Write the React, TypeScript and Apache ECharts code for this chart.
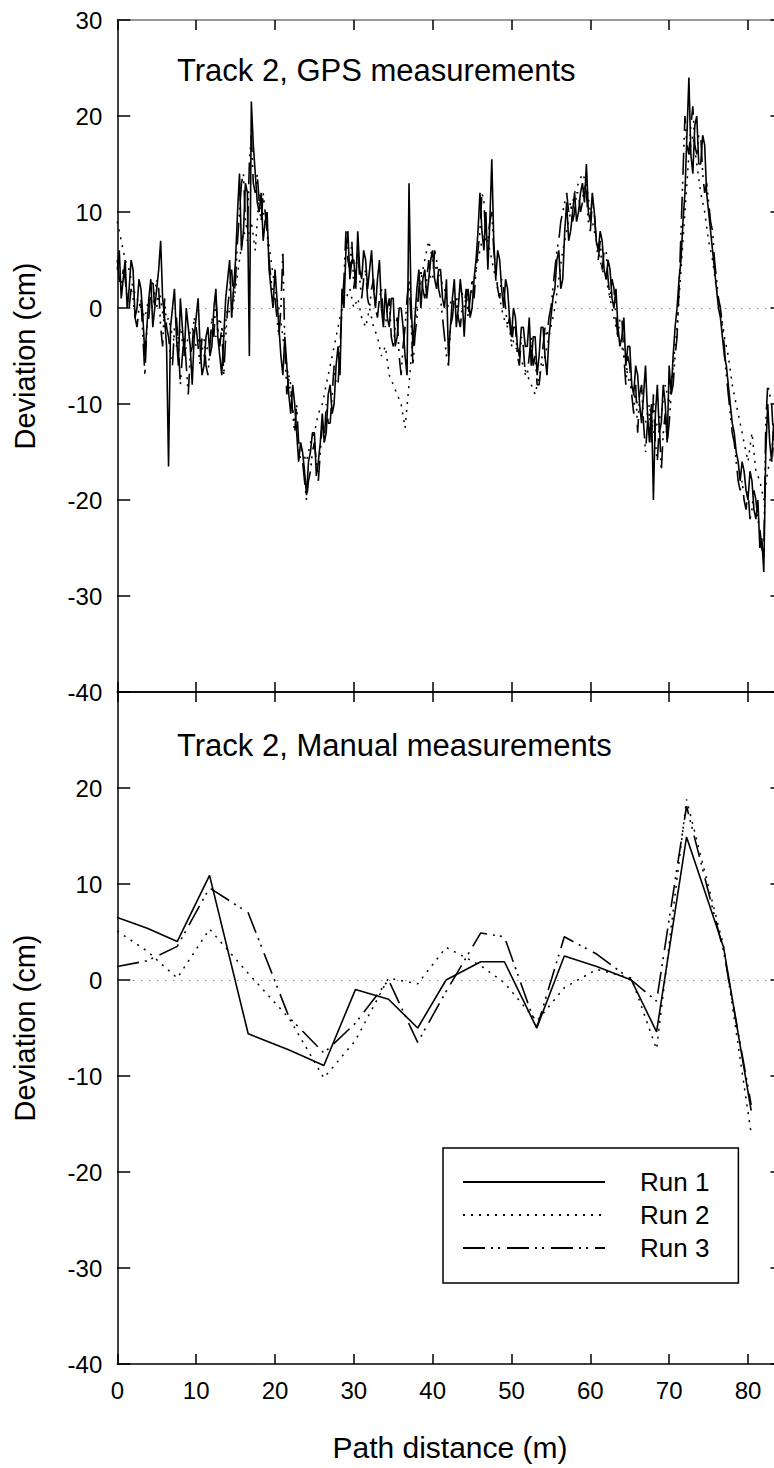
import React, { useEffect, useRef } from "react";
import * as echarts from "echarts";

// ---------- GPS measurements (top panel) ----------
// Runs 1 and 3: one reading every 0.25 m from 0 m; Run 2: one reading every 0.5 m from 0 m.
const gpsStart = 0;
const gpsFineStep = 0.25;
const gpsCoarseStep = 0.5;

const gpsRun1 = [
  4, 6, 1, 3, 5, 0, 2, 5, 4, -1, 0, 3, 2, -1, -5, -2, 1, 3, -2, 0,
  2, 4, 7, 1, -1, -4, -16.5, -2, 0, 2, -3, -6, 1, -2, -5, 0, -2, -4, -8, -3,
  -1, 1, -4, -7, -6, -3, -2, -5, -4, 0, 2, -3, -5, -7, -3, 1, 3, 5, -1, 2,
  5, 10, 14, 6, 8, 13, 12, -5, 21.5, 17, 14, 11, 10, 12, 7, 9, 10, 4, 2, 0,
  4, 1, -2, -5, -7, -3, -6, -9, -11, -8, -10, -13, -16, -14, -15, -17, -19.5, -16, -15, -13,
  -13, -17.5, -16, -14, -11, -14, -13, -9, -8, -11, -10, -6, -4, -7, 2, 0, 6, 8, 3, 5,
  5, 2, 8, 4, 3, 6, 5, 2, 4, 6, 2, 0, 3, 5, 0, -2, 2, -1, -2, 1,
  1, -4, -3, 0, 0, -2, -5, -7, 13, 1, -4, -1, 2, 4, 0, 3, 4, 1, 3, 5,
  6, 3, 2, 4, 4, 1, 0, 3, -5, -2, 1, 3, -2, 0, 3, 1, -3, 1, 2, -1,
  0, 3, 5, 8, 12, 8, 6, 10, 4, 9, 15.5, 7, 3, 6, 5, 2, 0, 3, 2, -1,
  -3, 0, -1, -4, -5, -2, -2, -4, -4, -1, -6, -3, -3, -7, -5, -2, -2, -5, -7, -3,
  -1, 1, 2, 5, 6, 2, 3, 8, 11, 7, 8, 10, 12, 9, 10, 12, 13, 11, 15, 10,
  9, 12, 10, 7, 6, 8, 7, 4, 3, 5, 4, 1, 0, 2, -2, -4, -3, -1, -6, -4,
  -4, -8, -9, -6, -7, -10, -12, -9, -6, -11, -14, -10, -20, -11, -8, -13, -12, -8, -10, -14,
  -6, -9, -5, -2, 0, 3, 5, 9, 12, 18, 24, 16, 14, 19, 20, 15, 15, 18, 17, 12,
  10, 8, 6, 4, 2, 0, -1, -3, -5, -6, -8, -10, -12, -13, -15, -16, -18, -16, -17, -19,
  -20, -17, -18, -21, -22, -20, -25, -24, -27.5, -15, -10, -14, -16, -12, -15, -17, -17, -15, -16,
];

const gpsRun2 = [
  9, 7, 5, 4, 2, 1, 0, -1, 1, 0,
  3, 1, -2, -1, -3, -4, -2, -5, -3, -2,
  -4, -3, -5, -4, -2, -3, -1, -3, 0, -1,
  2, 5, 8, 7, 9, 6, 12, 10, 8, 5,
  2, 0, -3, -6, -9, -12, -14, -15, -16, -14,
  -13, -11, -10, -8, -6, -4, -2, 0, 1, 2,
  0, 1, -1, -2, 0, -2, -3, -5, -4, -7,
  -8, -9, -10, -12.5, -8, -3, 0, 3, 5, 7,
  5, 4, 3, 2, 0, 1, 0, 2, 1, 0,
  2, 4, 6, 8, 7, 5, 3, 1, -1, -2,
  -3, -4, -5, -6, -7, -8, -9, -7, -6, -4,
  -2, 0, 3, 6, 8, 10, 12, 13, 14, 13,
  10, 8, 6, 4, 3, 1, -1, -3, -4, -6,
  -8, -9, -10, -11, -12, -10, -13, -12, -11, -8,
  -10, -6, -2, 4, 10, 16, 18, 15, 12, 10,
  7, 5, 2, 0, -3, -5, -8, -10, -12, -14,
  -16, -13, -17, -18, -20, -17, -15, -11, -9, -8,
];

const gpsRun3 = [
  5, 3, 2, 4, 3, 1, 0, 2, 1, -1, -2, 0, 1, -3, -7, -2, -1, 2, 3, 0,
  0, 2, -2, -4, 1, -2, -3, -5, -6, -2, -1, -4, -8, -5, -3, -6, -9, -5, -4, -1,
  -2, -4, -6, -3, -3, -6, -7, -4, -1, -3, 1, -2, -4, -2, -7, -3, 0, 2, 4, 1,
  3, 7, 10, 13, 14, 9, 8, 15, 18, 13, 12, 14, 11, 9, 12, 10, 8, 5, 3, 1,
  1, -1, -3, 0, 6, -4, -9, -7, -8, -11, -13, -10, -14, -16, -16, -18, -20, -18, -17, -15,
  -14, -16, -18, -15, -12, -14, -10, -12, -12, -9, -6, -8, -8, -4, 0, 3, 8, 5, 4, 7,
  2, 4, 6, 3, 1, 3, 4, 1, 0, 2, 3, 0, -1, 1, 2, -1, -2, 0, 1, -3,
  -4, -2, -1, -5, -7, -4, -2, 1, 3, -1, -6, -3, -1, 2, 4, 2, 1, 3, 5, 3,
  3, 6, 5, 2, 1, -1, -3, -5, -6, -2, -1, 1, 1, -1, -2, 0, 0, 2, -1, 1,
  3, 1, 4, 6, 8, 12, 11, 7, 7, 9, 10, 6, 4, 2, 1, 3, 2, 0, -2, -1,
  -4, -2, -2, -5, -6, -3, -4, -7, -7, -5, -3, -6, -5, -8, -8, -6, -4, -2, -3, -1,
  0, 2, 4, 6, 7, 9, 10, 11, 12, 10, 11, 9, 10, 12, 12, 10, 11, 13, 12, 9,
  8, 11, 10, 7, 5, 7, 4, 6, 6, 3, 1, 3, 2, -1, -3, -1, -1, -5, -8, -5,
  -6, -9, -11, -8, -13, -9, -8, -12, -15, -12, -11, -14, -9, -14, -16, -12, -17, -13, -11, -14,
  -12, -9, -8, -5, -3, 2, 8, 14, 20, 17, 16, 19, 21, 17, 16, 18, 18, 14, 12, 13,
  11, 9, 8, 5, 3, 1, 0, -2, -4, -7, -9, -11, -13, -14, -16, -18, -19, -18, -20, -21,
  -19, -22, -21, -19, -20, -22, -23, -25, -26, -12, -8, -9, -10, -14, -17, -16, -15, -16, -17,
];

// ---------- Manual measurements (bottom panel) ----------
const manualDist = [0, 3.8, 7.6, 11.7, 16.6, 21.8, 26.2, 30.2, 34.4, 38.1, 41.7, 46.1, 49.1, 53.2, 56.7, 60.8, 65.2, 68.4, 72.2, 76.9, 80.4];
const manualRun1 = [6.5, 5.4, 4.0, 10.9, -5.6, -7.3, -8.9, -1.0, -2.0, -5.0, 0, 1.9, 1.9, -5.0, 2.5, 1.4, 0, -5.4, 14.9, 3.4, -13.6];
const manualRun2 = [5.1, 3.0, 0.2, 5.3, 0.7, -4.0, -10.2, -6.3, 0.2, -0.4, 3.4, 1.5, -0.3, -4.3, -0.8, 1.1, 0.2, -7.2, 18.8, 3.5, -16.0];
const manualRun3 = [1.4, 2.0, 3.5, 9.6, 7.0, -3.9, -7.6, -4.5, 0.0, -6.5, -1.2, 4.9, 4.5, -5.0, 4.5, 2.7, 0, -2.2, 18.1, 3.0, -13.0];

const runNames = ["Run 1", "Run 2", "Run 3"];
const xTicks = { min: 0, max: 84.5, interval: 10 };
const yTicks = { min: -40, max: 30, interval: 10 };

const FONT = '"Liberation Sans", Arial, Helvetica, sans-serif';

export default function App() {
  const ref = useRef<HTMLDivElement>(null);

  useEffect(() => {
    if (!ref.current) return;
    const chart = echarts.init(ref.current, undefined, { renderer: "svg" });

    const gpsData = (arr: number[], step: number) => arr.map((v, i) => [gpsStart + i * step, v]);
    const manData = (arr: number[]) => arr.map((v, i) => [manualDist[i], v]);

    const lineTypes: any[] = ["solid", [2, 6], [22, 6, 2, 5, 2, 7]];
    const lineWidths = [1.6, 1.5, 1.6];

    const zeroLine = {
      silent: true,
      symbol: "none",
      label: { show: false },
      lineStyle: { color: "#555", type: [1, 7], width: 1 },
      data: [{ yAxis: 0 }],
    };

    const baseX = (gridIndex: number, position: string, showLabel: boolean, lineColor: string) => ({
      type: "value",
      gridIndex,
      position,
      min: xTicks.min,
      max: xTicks.max,
      interval: xTicks.interval,
      axisLine: { show: true, onZero: false, lineStyle: { color: lineColor, width: 1.5 } },
      axisTick: { show: true, inside: true, length: 10, lineStyle: { color: "#000", width: 1.5 } },
      axisLabel: { show: showLabel, fontSize: 24, color: "#000", fontFamily: FONT, margin: 14 },
      splitLine: { show: false },
    });

    const baseY = (gridIndex: number, position: string, showLabel: boolean, showMax: boolean) => ({
      type: "value",
      gridIndex,
      position,
      min: yTicks.min,
      max: yTicks.max,
      interval: yTicks.interval,
      axisLine: { show: true, onZero: false, lineStyle: { color: "#000", width: 1.5 } },
      axisTick: { show: true, inside: true, length: 13, lineStyle: { color: "#000", width: 1.5 } },
      axisLabel: {
        show: showLabel,
        fontSize: 24,
        color: "#000",
        fontFamily: FONT,
        margin: 15,
        showMaxLabel: showMax,
      },
      splitLine: { show: false },
    });

    const gpsSets = [
      { arr: gpsRun1, step: gpsFineStep },
      { arr: gpsRun2, step: gpsCoarseStep },
      { arr: gpsRun3, step: gpsFineStep },
    ];

    const topSeries = gpsSets.map((s, k) => ({
      name: runNames[k],
      type: "line",
      xAxisIndex: 0,
      yAxisIndex: 0,
      data: gpsData(s.arr, s.step),
      symbol: "none",
      showSymbol: false,
      color: "#000",
      lineStyle: { color: "#000", width: lineWidths[k], type: lineTypes[k] },
      z: 3 - k,
      ...(k === 0 ? { markLine: zeroLine } : {}),
    }));

    const bottomSeries = [manualRun1, manualRun2, manualRun3].map((arr, k) => ({
      name: runNames[k],
      type: "line",
      xAxisIndex: 2,
      yAxisIndex: 2,
      data: manData(arr),
      symbol: "none",
      showSymbol: false,
      color: "#000",
      lineStyle: { color: "#000", width: lineWidths[k], type: lineTypes[k] },
      z: 3 - k,
      ...(k === 0 ? { markLine: zeroLine } : {}),
    }));

    chart.setOption({
      animation: false,
      backgroundColor: "#fff",
      textStyle: { fontFamily: FONT },
      grid: [
        { left: 117.3, top: 20, width: 666.2, height: 672 },
        { left: 117.3, top: 692, width: 666.2, height: 672 },
      ],
      xAxis: [
        baseX(0, "bottom", false, "#000"),
        baseX(0, "top", false, "#777"),
        baseX(1, "bottom", true, "#000"),
        baseX(1, "top", false, "#000"),
      ],
      yAxis: [
        baseY(0, "left", true, true),
        baseY(0, "right", false, true),
        baseY(1, "left", true, false),
        baseY(1, "right", false, false),
      ],
      legend: {
        data: runNames,
        orient: "vertical",
        left: 443,
        top: 1148,
        padding: [21, 29, 22, 19],
        borderColor: "#000",
        borderWidth: 1.5,
        itemWidth: 142,
        itemHeight: 14,
        itemGap: 7,
        selectedMode: false,
        itemStyle: { color: "rgba(0,0,0,0)", borderWidth: 0, opacity: 0 },
        textStyle: { fontSize: 26, color: "#000", fontFamily: FONT, lineHeight: 26, padding: [0, 0, 0, 30] },
      },
      graphic: [
        {
          type: "text",
          x: 177,
          y: 70,
          style: { text: "Track 2, GPS measurements", fontSize: 31, fontFamily: FONT, fill: "#000", align: "left", verticalAlign: "middle" },
        },
        {
          type: "text",
          x: 177,
          y: 745,
          style: { text: "Track 2, Manual measurements", fontSize: 31, fontFamily: FONT, fill: "#000", align: "left", verticalAlign: "middle" },
        },
        {
          type: "text",
          x: 25,
          y: 356,
          rotation: Math.PI / 2,
          style: { text: "Deviation (cm)", fontSize: 29, fontFamily: FONT, fill: "#000", align: "center", verticalAlign: "middle" },
        },
        {
          type: "text",
          x: 25,
          y: 1028,
          rotation: Math.PI / 2,
          style: { text: "Deviation (cm)", fontSize: 29, fontFamily: FONT, fill: "#000", align: "center", verticalAlign: "middle" },
        },
        {
          type: "text",
          x: 450,
          y: 1447,
          style: { text: "Path distance (m)", fontSize: 30, fontFamily: FONT, fill: "#000", align: "center", verticalAlign: "middle" },
        },
      ],
      series: [...topSeries, ...bottomSeries],
    });

    return () => chart.dispose();
  }, []);

  return (
    <div style={{ position: "absolute", left: 0, top: 0, width: 774, height: 1468, overflow: "hidden", background: "#fff" }}>
      <div ref={ref} style={{ width: 800, height: 1468 }} />
    </div>
  );
}
